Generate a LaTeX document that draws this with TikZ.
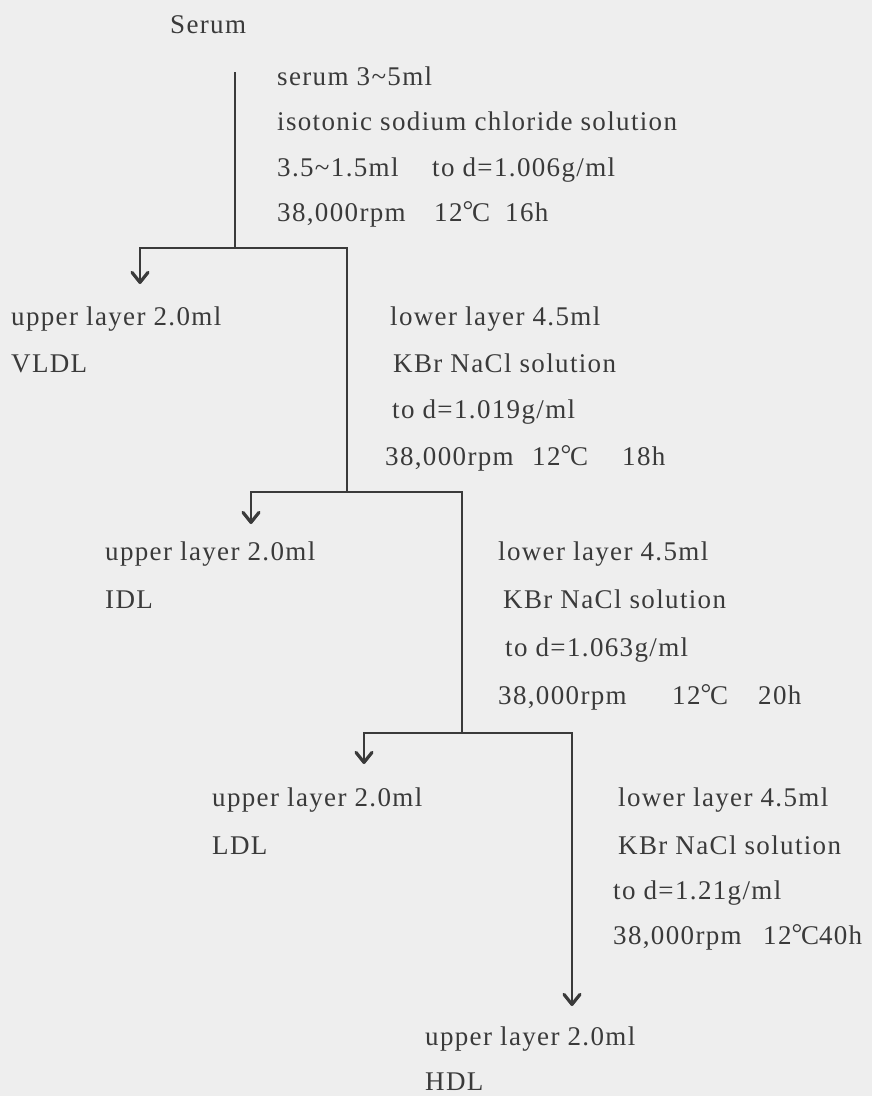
\documentclass[tikz,border=0pt]{standalone}
\usepackage{fontspec}
\setmainfont{Liberation Serif}[LetterSpace=5]
\usetikzlibrary{arrows.meta}
\definecolor{paper}{HTML}{EEEEEE}
\definecolor{ink}{HTML}{3A3A3A}
% degree Celsius sign built from the text font
\newcommand{\degc}{{\addfontfeature{LetterSpace=0}\raisebox{0.1ex}{°}\kern-0.05em C}}
\begin{document}
\begin{tikzpicture}[x=1pt,y=-1pt,
  txt/.style={anchor=base west, inner sep=0pt, font=\fontsize{27}{30}\selectfont, text=ink},
  link/.style={draw=ink, line width=1.6pt},
  arr/.style={link, -{Straight Barb[length=10pt,width=16pt,line width=3.2pt,round]}}]
\fill[paper] (0,0) rectangle (872,1096);
\useasboundingbox (0,0) rectangle (872,1096);

% --- texts ---
\node[txt] (serum) at (170,33) {Serum};

\node[txt] (a1) at (277,85)  {serum 3\textasciitilde5ml};
\node[txt] (a2) at (277,130) {isotonic sodium chloride solution};
\node[txt] (a3) at (277,176) {3.5\textasciitilde1.5ml};
\node[txt] (a3b) at (432,176) {to d=1.006g/ml};
\node[txt] (a4) at (277,221) {38,000rpm};
\node[txt] (a4b) at (434,221) {12\degc};
\node[txt] (a4c) at (505,221) {16h};

\node[txt] (u1) at (11,325)  {upper layer 2.0ml};
\node[txt] (f1) at (11,372)  {VLDL};
\node[txt] (b1) at (390,325) {lower layer 4.5ml};
\node[txt] (b2) at (393,372) {KBr NaCl solution};
\node[txt] (b3) at (392,418) {to d=1.019g/ml};
\node[txt] (b4) at (385,465) {38,000rpm};
\node[txt] (b4b) at (532,465) {12\degc};
\node[txt] (b4c) at (622,465) {18h};

\node[txt] (u2) at (105,560) {upper layer 2.0ml};
\node[txt] (f2) at (105,608) {IDL};
\node[txt] (c1) at (498,560) {lower layer 4.5ml};
\node[txt] (c2) at (503,608) {KBr NaCl solution};
\node[txt] (c3) at (505,656) {to d=1.063g/ml};
\node[txt] (c4) at (498,704) {38,000rpm};
\node[txt] (c4b) at (672,704) {12\degc};
\node[txt] (c4c) at (758,704) {20h};

\node[txt] (u3) at (212,806) {upper layer 2.0ml};
\node[txt] (f3) at (212,854) {LDL};
\node[txt] (d1) at (618,806) {lower layer 4.5ml};
\node[txt] (d2) at (618,854) {KBr NaCl solution};
\node[txt] (d3) at (613,899) {to d=1.21g/ml};
\node[txt] (d4) at (613,944) {38,000rpm};
\node[txt] (d4b) at (763,944) {12\degc40h};

\node[txt] (u4) at (425,1045) {upper layer 2.0ml};
\node[txt] (f4) at (425,1090) {HDL};

% --- junctions and arrow tips ---
\coordinate (s0) at (235,72);
\coordinate (j1) at (235,248);
\coordinate (l1) at (140,248);
\coordinate (r1) at (347,248);
\coordinate (t1) at (140,284);

\coordinate (j2) at (347,492);
\coordinate (l2) at (251,492);
\coordinate (r2) at (462,492);
\coordinate (t2) at (251,524);

\coordinate (j3) at (462,733);
\coordinate (l3) at (364,733);
\coordinate (r3) at (572,733);
\coordinate (t3) at (364,764);

\coordinate (t4) at (572,1006);

% --- connectors ---
\draw[link] (s0) -- (j1);
\draw[arr] (j1) -- (l1) -- (t1);
\draw[link] (j1) -- (r1) -- (j2);
\draw[arr] (j2) -- (l2) -- (t2);
\draw[link] (j2) -- (r2) -- (j3);
\draw[arr] (j3) -- (l3) -- (t3);
\draw[arr] (j3) -- (r3) -- (t4);
\end{tikzpicture}
\end{document}
